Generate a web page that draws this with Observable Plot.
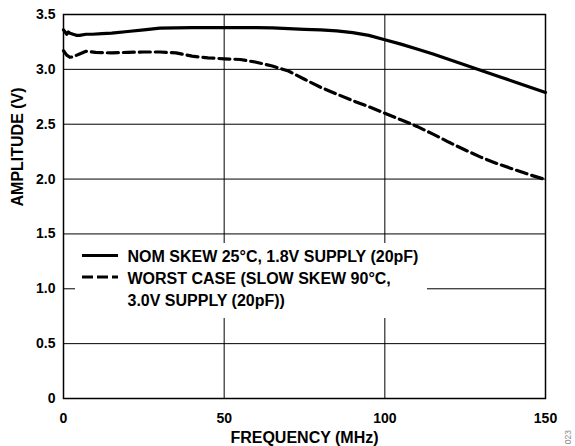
<!DOCTYPE html>
<html>
<head>
<meta charset="utf-8">
<script src="https://cdn.jsdelivr.net/npm/d3@7"></script>
<script src="https://cdn.jsdelivr.net/npm/@observablehq/plot@0.6"></script>
<style>
  html, body { margin: 0; padding: 0; background: #fff; }
  #chart svg { display: block; }
</style>
</head>
<body>
<div id="chart"></div>
<script>
// ---- data ----
const nomFreq = [0, 0.5, 1, 1.5, 2, 3, 4, 5, 7, 9, 12, 15, 20, 25, 30, 40, 50, 60, 65, 70, 75, 80, 85, 90, 95, 100, 105, 110, 115, 120, 125, 130, 135, 140, 145, 150];
const nomAmp  = [3.36, 3.34, 3.32, 3.34, 3.33, 3.32, 3.31, 3.31, 3.32, 3.32, 3.325, 3.33, 3.345, 3.36, 3.375, 3.38, 3.38, 3.38, 3.378, 3.372, 3.365, 3.36, 3.35, 3.335, 3.31, 3.27, 3.23, 3.185, 3.14, 3.09, 3.04, 2.99, 2.94, 2.89, 2.84, 2.79];

const worstFreq = [0, 1, 2, 3, 5, 7, 10, 15, 20, 25, 30, 35, 40, 45, 50, 55, 60, 65, 70, 75, 80, 85, 90, 95, 100, 105, 110, 115, 120, 125, 130, 135, 140, 145, 150];
const worstAmp  = [3.17, 3.13, 3.11, 3.115, 3.14, 3.165, 3.155, 3.15, 3.155, 3.158, 3.158, 3.15, 3.12, 3.105, 3.096, 3.09, 3.065, 3.03, 2.985, 2.91, 2.837, 2.775, 2.715, 2.66, 2.60, 2.54, 2.48, 2.41, 2.335, 2.265, 2.198, 2.14, 2.09, 2.04, 1.995];

const xTicks = [0, 50, 100, 150];
const yTicks = [0, 0.5, 1.0, 1.5, 2.0, 2.5, 3.0, 3.5];
const xGrid = [50, 100];
const yGrid = [0.5, 1.0, 1.5, 2.0, 2.5, 3.0];

const xTitle = "FREQUENCY (MHz)";
const yTitle = "AMPLITUDE (V)";
const legendLabels = ["NOM SKEW 25°C, 1.8V SUPPLY (20pF)", "WORST CASE (SLOW SKEW 90°C,", "3.0V SUPPLY (20pF))"];
const figId = "023";

const nom = nomFreq.map((f, i) => ({f, v: nomAmp[i]}));
const worst = worstFreq.map((f, i) => ({f, v: worstAmp[i]}));

const FONT = "'Liberation Sans', Arial, Helvetica, sans-serif";

const chart = Plot.plot({
  width: 575,
  height: 446,
  marginLeft: 63,
  marginRight: 30,
  marginTop: 14,
  marginBottom: 48,
  style: {fontFamily: FONT, fontSize: "14px", fontWeight: "bold", color: "black", background: "white", overflow: "visible"},
  x: {domain: [0, 150]},
  y: {domain: [0, 3.5]},
  marks: [
    Plot.gridX(xGrid, {stroke: "black", strokeOpacity: 1, strokeWidth: 1}),
    Plot.gridY(yGrid, {stroke: "black", strokeOpacity: 1, strokeWidth: 1}),
    Plot.axisX(xTicks, {tickSize: 0, tickPadding: 15, label: null, tickFormat: d => String(d), fontSize: 14}),
    Plot.axisY(yTicks, {tickSize: 0, tickPadding: 8, label: null, tickFormat: d => d === 0 ? "0" : d.toFixed(1), fontSize: 14}),
    Plot.line(nom, {x: "f", y: "v", stroke: "black", strokeWidth: 3.2, curve: "linear"}),
    Plot.line(worst, {x: "f", y: "v", stroke: "black", strokeWidth: 3.2, strokeDasharray: "11,5", curve: "linear"}),
    Plot.text([xTitle], {frameAnchor: "bottom", dy: 39, lineAnchor: "middle", fontSize: 16, fontWeight: "bold", fill: "black"}),
    Plot.text([yTitle], {frameAnchor: "left", dx: -46, rotate: -90, lineAnchor: "middle", fontSize: 16, fontWeight: "bold", fill: "black"}),
    Plot.frame({stroke: "black", strokeWidth: 1.5})
  ]
});

// legend (white box over the gridlines)
const svg = d3.select(chart);
const lg = svg.append("g").attr("class", "legend").attr("text-anchor", "start");
lg.append("rect").attr("x", 75).attr("y", 243).attr("width", 352).attr("height", 75).attr("fill", "white");
lg.append("line").attr("x1", 82).attr("x2", 118).attr("y1", 255.5).attr("y2", 255.5)
  .attr("stroke", "black").attr("stroke-width", 3.2);
lg.append("line").attr("x1", 82).attr("x2", 118).attr("y1", 277).attr("y2", 277)
  .attr("stroke", "black").attr("stroke-width", 3.2).attr("stroke-dasharray", "11,4");
const baselines = [262.3, 284, 305.7];
legendLabels.forEach((t, i) => {
  lg.append("text").attr("x", 127.5).attr("y", baselines[i])
    .attr("text-anchor", "start")
    .attr("font-family", FONT).attr("font-size", 16).attr("font-weight", "bold")
    .attr("fill", "black").text(t);
});
// figure id, rotated at the bottom-right edge
svg.append("text").attr("transform", "translate(571,430) rotate(-90)")
  .attr("text-anchor", "end").attr("font-family", FONT).attr("font-size", 8.5)
  .attr("font-weight", "normal").attr("fill", "#888").text(figId);

document.getElementById("chart").appendChild(chart);
</script>
</body>
</html>
